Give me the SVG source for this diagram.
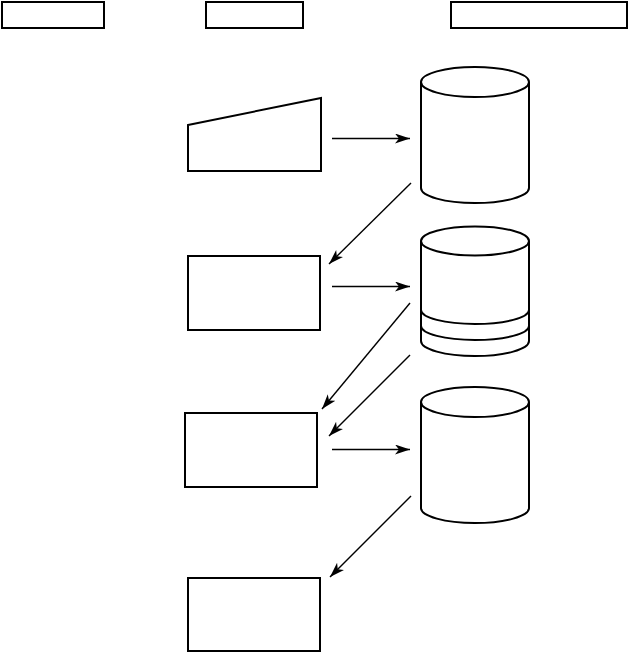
<svg xmlns="http://www.w3.org/2000/svg" width="630" height="653" viewBox="0 0 630 653">
<style>
.s{fill:#fff;stroke:#000;stroke-width:2}
.c{fill:none;stroke:#000;stroke-width:2}
</style>
<defs>
<marker id="ah" markerWidth="16" markerHeight="12" refX="15" refY="5" orient="auto" markerUnits="userSpaceOnUse">
<path d="M0,0 L15,5 L0,10 L4,5 Z" fill="#000"/>
</marker>
</defs>
<rect width="630" height="653" fill="#fff"/>
<g id="hdr1"><rect class="s" x="2" y="2" width="102" height="26"/></g>
<g id="hdr2"><rect class="s" x="206" y="2" width="97" height="26"/></g>
<g id="hdr3"><rect class="s" x="451" y="2" width="176" height="26"/></g>
<g id="input"><polygon class="s" points="188,125 321,98 321,171 188,171"/></g>
<g id="proc1"><rect class="s" x="188" y="256" width="132" height="74"/></g>
<g id="proc2"><rect class="s" x="185" y="413" width="132" height="74"/></g>
<g id="proc3"><rect class="s" x="188" y="578" width="132" height="73"/></g>
<g id="db1">
<path class="s" d="M421,82 L421,188 A54,15 0 0 0 529,188 L529,82"/>
<ellipse class="s" cx="475" cy="82" rx="54" ry="15"/>
</g>
<g id="db2">
<path class="s" d="M421,241 L421,341 A54,15 0 0 0 529,341 L529,241"/>
<ellipse class="s" cx="475" cy="241" rx="54" ry="14.5"/>
<path class="c" d="M421,310 A54,14 0 0 0 529,310"/>
<path class="c" d="M421,326 A54,14 0 0 0 529,326"/>
</g>
<g id="db3">
<path class="s" d="M421,402 L421,508 A54,15 0 0 0 529,508 L529,402"/>
<ellipse class="s" cx="475" cy="402" rx="54" ry="15"/>
</g>
<g id="connectors" fill="none" stroke="#000" stroke-width="1.4">
<line x1="332" y1="138.5" x2="410" y2="138.5" marker-end="url(#ah)"/>
<line x1="411" y1="183" x2="329" y2="264" marker-end="url(#ah)"/>
<line x1="332" y1="286.5" x2="410" y2="286.5" marker-end="url(#ah)"/>
<line x1="410" y1="303" x2="322" y2="409" marker-end="url(#ah)"/>
<line x1="410" y1="355" x2="329" y2="436" marker-end="url(#ah)"/>
<line x1="332" y1="449.5" x2="410" y2="449.5" marker-end="url(#ah)"/>
<line x1="411" y1="496" x2="330" y2="577" marker-end="url(#ah)"/>
</g>
</svg>
